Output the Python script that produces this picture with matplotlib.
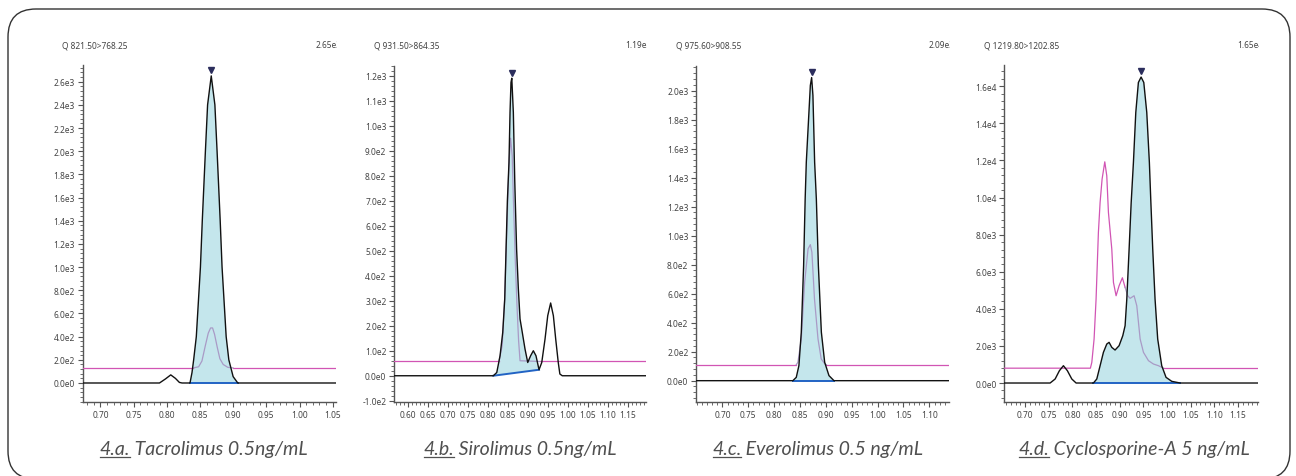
import numpy as np
import matplotlib
matplotlib.use("Agg")
import matplotlib.pyplot as plt
from matplotlib.ticker import MultipleLocator, FuncFormatter
from matplotlib.patches import FancyBboxPatch
from matplotlib.lines import Line2D
from matplotlib.transforms import IdentityTransform, Bbox, TransformedBbox, offset_copy

# --- data (retention time, intensity) ---
# 4.a Tacrolimus: quantifier trace (black) and qualifier trace (magenta)
tac_t = [0.62, 0.789, 0.798, 0.806, 0.813, 0.819, 0.823, 0.835, 0.838, 0.8405, 0.8445, 0.8507, 0.8535,
         0.8582, 0.8615, 0.867, 0.8725, 0.8758, 0.8805, 0.8833, 0.8895, 0.8935, 0.900, 0.907, 1.10]
tac_i = [0, 0, 35, 70, 40, 5, 0, 0, 90, 200, 400, 1000, 1400,
         2000, 2400, 2650, 2400, 2000, 1400, 1000, 400, 200, 55, 0, 0]
tac_q_t = [0.62, 0.840, 0.848, 0.853, 0.858, 0.8625, 0.866, 0.869, 0.872, 0.876, 0.880, 0.885, 0.892, 0.900, 1.10]
tac_q_i = [130, 130, 140, 190, 320, 430, 475, 475, 420, 310, 210, 160, 135, 130, 130]
tac_win = [0.835, 0.907]          # integration window
tac_base = [0, 0]                 # baseline intensity at window ends
tac_qwin = [0.840, 0.900]

# 4.b Sirolimus
sir_t = [0.55, 0.814, 0.8225, 0.8307, 0.8374, 0.8424, 0.8457, 0.849, 0.853, 0.8556, 0.858, 0.860, 0.8639,
         0.8674, 0.872, 0.8764, 0.8806, 0.8848, 0.893, 0.8998, 0.907, 0.9138, 0.9204, 0.928, 0.9348,
         0.943, 0.9497, 0.957, 0.9638, 0.9696, 0.976, 0.980, 0.986, 1.25]
sir_i = [0, 0, 13, 80, 173, 307, 507, 700, 853, 1053, 1173, 1190, 1053,
         780, 507, 347, 227, 187, 107, 53, 80, 100, 80, 24, 53,
         147, 240, 291, 240, 147, 53, 7, 0, 0]
sir_q_t = [0.55, 0.828, 0.836, 0.842, 0.848, 0.853, 0.857, 0.861, 0.864, 0.869, 0.873, 0.877, 0.8806, 0.930, 1.25]
sir_q_i = [57, 57, 120, 300, 600, 850, 950, 880, 707, 450, 280, 140, 60, 57, 57]
sir_win = [0.814, 0.928]
sir_base = [0, 24]
sir_qwin = [0.828, 0.930]

# 4.c Everolimus
eve_t = [0.60, 0.8362, 0.8428, 0.8479, 0.8525, 0.857, 0.860, 0.8622, 0.8673, 0.870, 0.8725, 0.875,
         0.8783, 0.8816, 0.8855, 0.8913, 0.8977, 0.906, 0.9157, 1.20]
eve_i = [0, 0, 23, 104, 334, 794, 1254, 1507, 1852, 2036, 2090, 1967,
         1507, 1254, 794, 334, 127, 35, 0, 0]
eve_q_t = [0.60, 0.8428, 0.846, 0.8525, 0.859, 0.8656, 0.870, 0.873, 0.878, 0.8848, 0.891, 0.8977, 0.901, 1.20]
eve_q_i = [110, 110, 127, 288, 679, 909, 938, 886, 564, 288, 150, 117, 110, 110]
eve_win = [0.8362, 0.9157]
eve_base = [0, 0]
eve_qwin = [0.8428, 0.901]

# 4.d Cyclosporine-A
cyc_t = [0.60, 0.7528, 0.7634, 0.7724, 0.7809, 0.7893, 0.7986, 0.8077, 0.8443, 0.8514, 0.8584, 0.8654,
         0.8725, 0.8774, 0.8831, 0.890, 0.8985, 0.9063, 0.9112, 0.9148, 0.9197, 0.924, 0.9288, 0.9338,
         0.9393, 0.945, 0.9507, 0.957, 0.9625, 0.9654, 0.9696, 0.9745, 0.9801, 0.9886, 0.9977, 1.0098,
         1.0274, 1.25]
cyc_i = [0, 0, 216, 663, 933, 663, 216, 0, 0, 216, 933, 1654,
         2102, 2193, 1923, 1779, 2012, 2551, 3090, 4528, 7223, 9700, 11896, 14591,
         16208, 16500, 16208, 14591, 11896, 9918, 7223, 4528, 2372, 933, 306, 90,
         0, 0]
cyc_q_t = [0.60, 0.8379, 0.8409, 0.8457, 0.8499, 0.8548, 0.8584, 0.8626, 0.8683, 0.8725, 0.876, 0.8831,
           0.8866, 0.8922, 0.8985, 0.9055, 0.9112, 0.9168, 0.9218, 0.9302, 0.9359, 0.943, 0.950, 0.9606,
           0.9711, 0.9817, 0.9923, 1.25]
cyc_q_i = [800, 800, 1115, 2372, 4528, 8122, 9738, 10996, 11928, 11173, 9199, 7223,
           5427, 4706, 5245, 5676, 5157, 4706, 4565, 4706, 4168, 2372, 1654, 1204,
           1024, 933, 800, 800]
cyc_win = [0.8443, 1.0274]
cyc_base = [0, 0]
cyc_qwin = [0.9112, 0.9923]

transitions = ["Q 821.50>768.25", "Q 931.50>864.35", "Q 975.60>908.55", "Q 1219.80>1202.85"]
captions = [("4.a.", " Tacrolimus 0.5ng/mL"), ("4.b.", " Sirolimus 0.5ng/mL"),
            ("4.c.", " Everolimus 0.5 ng/mL"), ("4.d.", " Cyclosporine-A 5 ng/mL")]
xticks = [[0.70, 0.75, 0.80, 0.85, 0.90, 0.95, 1.00, 1.05],
          [0.60, 0.65, 0.70, 0.75, 0.80, 0.85, 0.90, 0.95, 1.00, 1.05, 1.10, 1.15],
          [0.70, 0.75, 0.80, 0.85, 0.90, 0.95, 1.00, 1.05, 1.10],
          [0.70, 0.75, 0.80, 0.85, 0.90, 0.95, 1.00, 1.05, 1.10, 1.15]]
ysteps = [200, 100, 200, 2000]

W, H = 1296, 477
# axes rectangles in pixels: left, right, top, bottom
rects = [(82.5, 336, 66, 403), (394, 646, 66.7, 403), (696, 949, 66.7, 403), (1004.3, 1258, 66, 403)]
xlims = [(0.673, 1.055), (0.566, 1.195), (0.649, 1.138), (0.656, 1.192)]
ylims = [(-164, 2744), (-105, 1240), (-147, 2172), (-1024, 17150)]
cap_x = [99, 423, 712, 1018]

BLACK = "#111111"
MAGENTA = "#d155b4"
LAVENDER = "#a99ac6"
FILL = "#c4e6ec"
BASE = "#2163c4"
NAVY = "#2b2d5c"
TXT = "#444444"

plt.rcParams["font.family"] = ["Noto Sans", "DejaVu Sans"]


def sci(v, pos):
    if abs(v) < 1e-9:
        return "0.0e0"
    e = int(np.floor(np.log10(abs(v)) + 1e-6))
    m = v / 10 ** e
    if abs(round(m, 1)) >= 10:
        m /= 10
        e += 1
    return f"{m:.1f}e{e}"


fig = plt.figure(figsize=(W / 100, H / 100), dpi=100)

frame = FancyBboxPatch((8, -3), 1282, 470, boxstyle="round,pad=0,rounding_size=28",
                       transform=IdentityTransform(), fill=False, ec="#333333", lw=1.0)
fig.add_artist(frame)

panels = [
    (tac_t, tac_i, tac_q_t, tac_q_i, tac_win, tac_base, tac_qwin),
    (sir_t, sir_i, sir_q_t, sir_q_i, sir_win, sir_base, sir_qwin),
    (eve_t, eve_i, eve_q_t, eve_q_i, eve_win, eve_base, eve_qwin),
    (cyc_t, cyc_i, cyc_q_t, cyc_q_i, cyc_win, cyc_base, cyc_qwin),
]

for k, (t, y, qt, qy, win, base, qwin) in enumerate(panels):
    l, r, tp, bt = rects[k]
    ax = fig.add_axes([l / W, (H - bt) / H, (r - l) / W, (bt - tp) / H])
    t = np.array(t); y = np.array(y); qt = np.array(qt); qy = np.array(qy)

    # integrated peak area
    m = (t >= win[0]) & (t <= win[1])
    px = list(t[m]) + [win[1], win[0]]
    py = list(y[m]) + [base[1], base[0]]
    ax.fill(px, py, color=FILL, lw=0, zorder=1)
    ax.plot(win, base, color=BASE, lw=1.4, zorder=2)

    # qualifier trace: magenta outside the window, lavender inside
    left = qt <= qwin[0]
    right = qt >= qwin[1]
    inside = (qt >= qwin[0]) & (qt <= qwin[1])
    ax.plot(qt[left], qy[left], color=MAGENTA, lw=0.9, zorder=3)
    ax.plot(qt[right], qy[right], color=MAGENTA, lw=0.9, zorder=3)
    ax.plot(qt[inside], qy[inside], color=LAVENDER, lw=0.9, zorder=3)

    # quantifier trace
    ax.plot(t, y, color=BLACK, lw=1.0, zorder=4)

    # apex marker
    j = np.argmax(y)
    tr = offset_copy(ax.transData, fig=fig, x=0, y=4, units="points")
    ax.plot(t[j], y[j], marker="v", ms=4.5, color=NAVY, transform=tr, zorder=5, clip_on=False)

    ax.set_xlim(*xlims[k])
    ax.set_ylim(*ylims[k])
    ax.set_xticks(xticks[k])
    ax.set_xticklabels([f"{v:.2f}" for v in xticks[k]])
    ax.xaxis.set_minor_locator(MultipleLocator(0.01))
    ax.yaxis.set_major_locator(MultipleLocator(ysteps[k]))
    ax.yaxis.set_minor_locator(MultipleLocator(ysteps[k] / 5))
    ax.yaxis.set_major_formatter(FuncFormatter(sci))
    for s in ["top", "right"]:
        ax.spines[s].set_visible(False)
    for s in ["left", "bottom"]:
        ax.spines[s].set_color("#555555")
        ax.spines[s].set_linewidth(1.0)
    ax.tick_params(which="major", length=3.5, width=0.8, color="#555555", labelsize=6,
                   labelcolor=TXT, pad=2)
    ax.tick_params(which="minor", length=2, width=0.6, color="#555555")

    # header texts
    fy = (H - 46) / H
    fig.text((l - 20) / W, fy, transitions[k], fontsize=6, color=TXT, va="center", ha="left")
    h = y[j]
    e = int(np.floor(np.log10(h)))
    ht = fig.text((r - 20.5) / W, fy, f"{h / 10 ** e:.2f}e{e}", fontsize=6, color=TXT,
                  va="center", ha="left")
    clip = TransformedBbox(Bbox.from_extents(0, 0, r + 1, H), IdentityTransform())
    ht.set_clip_box(clip)
    ht.set_clip_on(True)

# captions with underlined figure number
fig.canvas.draw()
rend = fig.canvas.get_renderer()
base_y = H - 455
for k, (num, name) in enumerate(captions):
    t1 = fig.text(cap_x[k] / W, base_y / H, num, fontsize=14, style="italic",
                  family=["Lato", "DejaVu Sans"], color="#505050", va="baseline", ha="left")
    bb = t1.get_window_extent(rend)
    fig.text(bb.x1 / W, base_y / H, name, fontsize=14, style="italic",
             family=["Lato", "DejaVu Sans"], color="#505050", va="baseline", ha="left")
    yb = base_y - 3
    fig.add_artist(Line2D([bb.x0 + 1, bb.x1], [yb, yb], transform=IdentityTransform(),
                          color="#505050", lw=0.9))

fig.savefig("out.png", dpi=100)
